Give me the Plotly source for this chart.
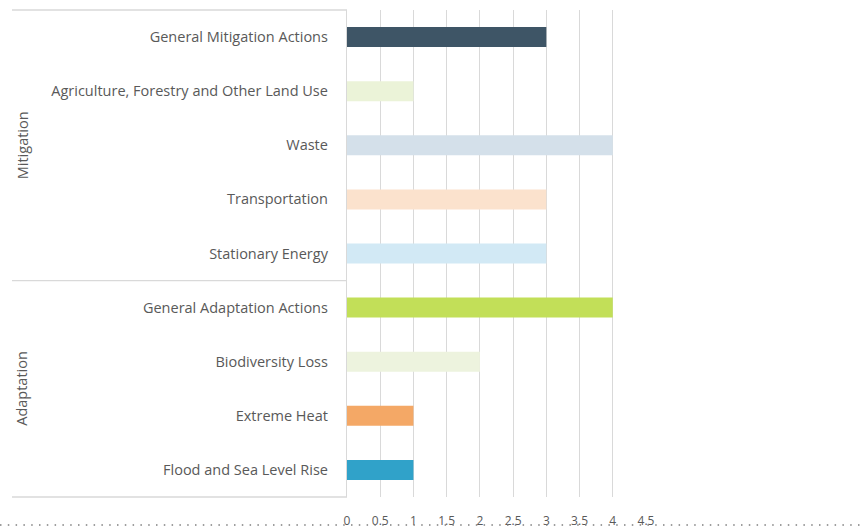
import plotly.graph_objects as go

categories = [
    "General Mitigation Actions",
    "Agriculture, Forestry and Other Land Use",
    "Waste",
    "Transportation",
    "Stationary Energy",
    "General Adaptation Actions",
    "Biodiversity Loss",
    "Extreme Heat",
    "Flood and Sea Level Rise",
]
values = [3, 1, 4, 3, 3, 4, 2, 1, 1]
bar_colors = [
    "#3e5566", "#ebf3d8", "#d4e0ea", "#fbe2cd", "#d2e9f5",
    "#c2df58", "#edf3de", "#f4a866", "#30a2c9",
]
groups = ["Mitigation", "Adaptation"]
group_sizes = [5, 4]
x_ticks = [0, 0.5, 1, 1.5, 2, 2.5, 3, 3.5, 4, 4.5]
x_tick_text = ["0", "0.5", "1", "1.5", "2", "2.5", "3", "3.5", "4", "4.5"]

W, H = 861, 530
ML, MR, MT, MB = 347, 215, 10, 33
pw = W - ML - MR
ph = H - MT - MB

def px_to_paper_x(px):
    return (px - ML) / pw

def px_to_paper_y(py):
    return (H - MB - py) / ph

FONT = "Open Sans"
GREY = "#595959"
LINE = "#d9d9d9"

fig = go.Figure(
    go.Bar(
        x=values,
        y=categories,
        orientation="h",
        marker=dict(color=bar_colors, line=dict(width=0)),
        width=0.37,
        hoverinfo="x+y",
    )
)

shapes = []
left_x = px_to_paper_x(12)
n = len(categories)
# horizontal rules of the grouped category axis
cum = 0
for size in [0] + group_sizes[::-1]:
    cum += size
    shapes.append(dict(type="line", xref="paper", yref="paper",
                       x0=left_x, x1=0, y0=cum / n, y1=cum / n,
                       line=dict(color=LINE, width=1.3)))
# dotted rule running under the value labels
shapes.append(dict(type="line", xref="paper", yref="paper",
                   x0=px_to_paper_x(0), x1=px_to_paper_x(W),
                   y0=px_to_paper_y(525), y1=px_to_paper_y(525),
                   line=dict(color="#7f7f7f", width=1.3, dash="1.5px,6.3px")))

annotations = []
start = 0
for g, size in zip(groups, group_sizes):
    mid = start + size / 2
    annotations.append(dict(
        text=g, xref="paper", yref="paper",
        x=px_to_paper_x(22), y=1 - mid / n,
        textangle=-90, showarrow=False,
        font=dict(family=FONT, size=14.5, color=GREY),
        xanchor="center", yanchor="middle",
    ))
    start += size

fig.update_layout(
    width=W, height=H,
    margin=dict(l=ML, r=MR, t=MT, b=MB, pad=0, autoexpand=False),
    paper_bgcolor="white", plot_bgcolor="white",
    showlegend=False,
    bargap=0.63,
    shapes=shapes,
    annotations=annotations,
    font=dict(family=FONT, size=14.5, color=GREY),
    xaxis=dict(
        range=[0, 4.5],
        tickvals=x_ticks, ticktext=x_tick_text,
        showgrid=True, gridcolor=LINE, gridwidth=1,
        zeroline=False, showline=False,
        ticks="", ticklabelstandoff=15,
        automargin=False,
        tickfont=dict(family=FONT, size=12, color=GREY),
    ),
    yaxis=dict(
        categoryorder="array", categoryarray=categories[::-1],
        showgrid=False, zeroline=False,
        showline=True, linecolor=LINE, linewidth=1.3,
        ticks="", ticklabelstandoff=15,
        automargin=False,
        tickfont=dict(family=FONT, size=14.5, color=GREY),
    ),
)

fig.write_html("out.html")
